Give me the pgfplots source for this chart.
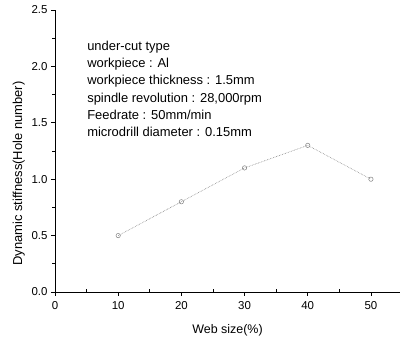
\documentclass[border=0pt]{standalone}
\usepackage{fontspec}
\setmainfont{Liberation Sans}
\usepackage{pgfplots}
\pgfplotsset{compat=1.18}
\begin{document}
\begin{tikzpicture}[x=1bp,y=1bp]
\begin{axis}[
  scale only axis,
  width=345bp, height=282bp,
  xmin=0, xmax=54.6,
  ymin=0, ymax=2.5,
  axis x line=bottom,
  axis y line=left,
  axis line style={-, line width=0.9pt},
  xtick={0,10,...,50},
  ytick={0,0.5,...,2.5},
  minor x tick num=1,
  minor y tick num=1,
  tick align=outside,
  minor x tick style={yshift=2.5bp},
  major tick length=4bp,
  minor tick length=2.5bp,
  tick style={black, line width=0.8pt},
  xticklabel style={/pgf/number format/fixed, yshift=-2bp},
  yticklabel style={/pgf/number format/fixed, /pgf/number format/fixed zerofill, /pgf/number format/precision=1},
  /pgf/number format/assume math mode=true,
  tick label style={font=\fontsize{11.5}{13}\selectfont},
  xlabel={Web size(\%)},
  ylabel={Dynamic stiffness(Hole number)},
  label style={font=\fontsize{12.5}{14}\selectfont},
  xlabel style={yshift=-8bp},
  ylabel style={at={(ticklabel cs:0.42)}, yshift=0bp, font=\fontsize{13}{15}\selectfont},
  clip=false,
]
\addplot[gray, densely dotted, line width=0.6pt, mark=o, mark size=2.2bp,
  mark options={solid, gray, line width=0.5pt}]
  coordinates {(10,0.5) (20,0.8) (30,1.1) (40,1.3) (50,1.0)};
\node[anchor=north west, align=left, inner sep=0pt,
  font=\fontsize{13}{17.2}\selectfont] at (rel axis cs:0.093,0.89)
  {under-cut type\\workpiece : Al\\workpiece thickness : 1.5mm\\spindle revolution : 28,000rpm\\Feedrate : 50mm/min\\microdrill diameter : 0.15mm};
\end{axis}
\path[use as bounding box] ([shift={(-55bp,-47bp)}]current axis.south west) rectangle ([shift={(1bp,10bp)}]current axis.north east);
\end{tikzpicture}
\end{document}
